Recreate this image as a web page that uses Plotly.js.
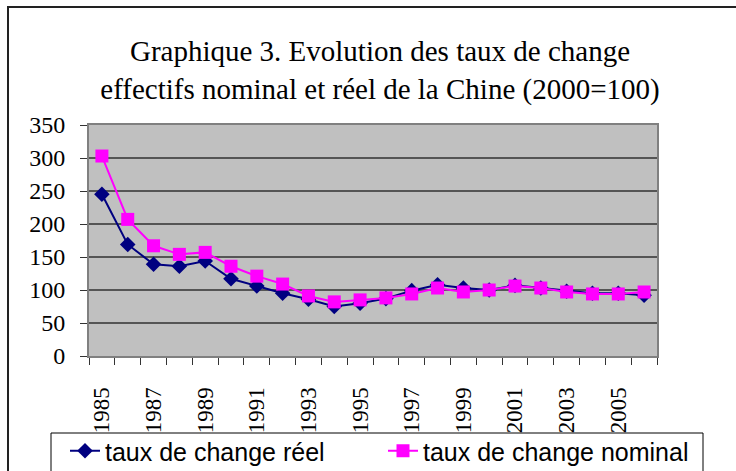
<!DOCTYPE html>
<html>
<head>
<meta charset="utf-8">
<script src="https://cdn.plot.ly/plotly-3.0.1.min.js"></script>
<style>html,body{margin:0;padding:0;background:#fff;}#chart{width:736px;height:471px;}</style>
</head>
<body>
<div id="chart"></div>
<script>
const years = [1985,1986,1987,1988,1989,1990,1991,1992,1993,1994,1995,1996,1997,1998,1999,2000,2001,2002,2003,2004,2005,2006];
const reel    = [245,169,139,136,144,117,106,95,86,75,80,87,99,108,103,100,107,103,98,95,95,92];
const nominal = [303,207,167,154,157,136,121,109,91,82,85,88,94,103,97,100,106,103,97,94,94,97];
const tickYears = [1985,1987,1989,1991,1993,1995,1997,1999,2001,2003,2005];
const tickLabels = tickYears.map(String);
const boundaries = years.map(y => y - 0.5).concat([years[years.length-1] + 0.5]);

const W = 736, H = 471;
const L = 89, R = 657, T = 125, B = 356;
const pw = R - L, ph = B - T;
const px = x => (x - L) / pw;
const py = y => (B - y) / ph;

const traces = [
  {x: years, y: reel, name: 'taux de change réel', type: 'scatter', mode: 'lines+markers',
   line: {color: '#000080', width: 2}, marker: {symbol: 'diamond', size: 12, color: '#000080'}},
  {x: years, y: nominal, name: 'taux de change nominal', type: 'scatter', mode: 'lines+markers',
   line: {color: '#ff00ff', width: 2}, marker: {symbol: 'square', size: 13, color: '#ff00ff'}}
];

const serif = 'Liberation Serif, Times New Roman, serif';

const layout = {
  width: W, height: H,
  margin: {l: L, r: W - R, t: T, b: H - B, pad: 0, autoexpand: false},
  paper_bgcolor: '#ffffff',
  plot_bgcolor: '#c0c0c0',
  font: {family: serif, color: '#000'},
  title: {
    text: 'Graphique 3. Evolution des taux de change<br>effectifs nominal et réel de la Chine (2000=100)',
    font: {family: serif, size: 29, color: '#000'},
    x: 380 / W, xanchor: 'center', xref: 'container',
    y: 1 - 61 / H, yanchor: 'middle', yref: 'container'
  },
  xaxis: {
    range: [1984.5, 2006.5], automargin: false,
    tickmode: 'array', tickvals: tickYears, ticktext: tickLabels,
    tickangle: -90, ticks: '', showgrid: false, zeroline: false,
    tickfont: {family: serif, size: 23, color: '#000'},
    ticklabelstandoff: 20,
    showline: true, linecolor: '#808080', linewidth: 2, mirror: true,
    minor: {tickmode: 'array', tickvals: boundaries, ticks: 'outside', ticklen: 7, tickwidth: 1, tickcolor: '#333', showgrid: false}
  },
  yaxis: {
    range: [0, 350], tickmode: 'linear', tick0: 0, dtick: 50, automargin: false,
    ticks: 'outside', ticklen: 7, tickwidth: 1, tickcolor: '#333',
    showgrid: true, gridcolor: '#555555', gridwidth: 2, zeroline: false,
    showline: true, linecolor: '#808080', linewidth: 2, mirror: true,
    tickfont: {family: serif, size: 24, color: '#000'},
    ticklabelstandoff: 10
  },
  showlegend: true,
  legend: {
    orientation: 'h', x: px(65), xanchor: 'left', y: py(451), yanchor: 'middle',
    borderwidth: 0, bgcolor: 'rgba(0,0,0,0)',
    font: {family: 'Liberation Sans, Arial, sans-serif', size: 25, color: '#000'},
    entrywidth: 273, entrywidthmode: 'pixels', traceorder: 'normal'
  },
  shapes: [
    {type: 'rect', xref: 'paper', yref: 'paper', x0: px(8), x1: px(745), y0: py(490), y1: py(7),
     line: {color: '#222', width: 2}, fillcolor: 'rgba(0,0,0,0)', layer: 'below'},
    {type: 'rect', xref: 'paper', yref: 'paper', x0: px(51), x1: px(703), y0: py(490), y1: py(433),
     line: {color: '#000', width: 1}, fillcolor: '#ffffff', layer: 'below'}
  ]
};

Plotly.newPlot('chart', traces, layout, {displayModeBar: false, staticPlot: true});
</script>
</body>
</html>
